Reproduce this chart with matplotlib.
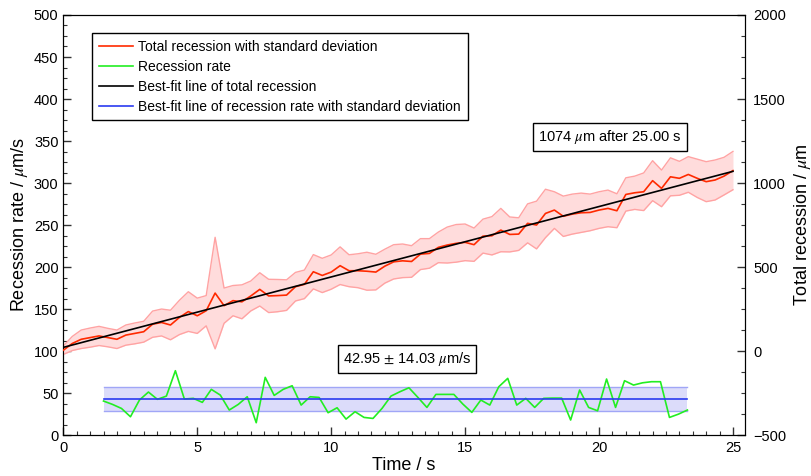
import numpy as np
import matplotlib
matplotlib.use("Agg")
import matplotlib.pyplot as plt
from matplotlib.ticker import MultipleLocator

plt.rcParams['font.family'] = ['Liberation Sans', 'DejaVu Sans']
plt.rcParams['mathtext.fontset'] = 'stix'

# total recession (um), sampled every 1/3 s from 0 to 25 s
total_recession = [5, 45, 70, 80, 90, 80, 70, 95, 105, 115,
                   160, 170, 155, 200, 235, 210, 240, 345, 270, 300,
                   293, 328, 367, 328, 330, 333, 383, 397, 472, 450,
                   470, 508, 478, 478, 475, 470, 505, 531, 537, 533,
                   577, 581, 617, 631, 641, 647, 633, 684, 686, 720,
                   694, 696, 760, 750, 819, 839, 802, 815, 823, 825,
                   839, 849, 835, 932, 942, 948, 1014, 968, 1037, 1028,
                   1051, 1028, 1008, 1018, 1041, 1074]
total_std = [25, 42, 55, 57, 57, 55, 55, 60, 62, 62,
             78, 80, 88, 102, 118, 105, 90, 332, 105, 90,
             101, 89, 99, 99, 96, 91, 85, 85, 102, 102,
             102, 112, 95, 101, 113, 106, 101, 102, 100, 94,
             92, 88, 91, 107, 112, 109, 99, 101, 114, 129,
             104, 97, 116, 142, 144, 109, 120, 119, 117, 109,
             109, 109, 101, 99, 99, 112, 119, 109, 113, 101,
             106, 114, 119, 119, 112, 114]
t_total = np.linspace(0, 25, len(total_recession))

# recession rate (um/s)
recession_rate = [40.5, 36.5, 31.7, 21.8, 41.7, 51.2, 42.5, 46.4, 76.6, 42.9,
                  43.7, 38.9, 54.4, 47.6, 29.8, 36.5, 45.6, 14.7, 68.7, 47.2,
                  54.4, 58.7, 35.7, 45.6, 44.8, 26.6, 32.5, 19.0, 27.8, 21.0,
                  19.8, 31.7, 46.4, 51.6, 56.3, 44.8, 32.9, 48.4, 48.4, 48.4,
                  36.9, 27.0, 41.7, 35.7, 57.5, 67.5, 35.7, 43.7, 32.9, 43.7,
                  44.0, 44.0, 17.9, 53.6, 32.9, 28.9, 66.7, 32.9, 64.7, 59.5,
                  62.2, 63.5, 63.5, 21.0, 24.9, 29.8]
t_rate = np.linspace(1.5, 23.3, len(recession_rate))

rate_mean = 42.95
rate_std = 14.03
fit_slope = 41.9
fit_intercept = 22.0
final_recession = 1074

fig = plt.figure(figsize=(8.12, 4.76), dpi=100)
ax = fig.add_axes([0.078, 0.086, 0.8395, 0.8825])
ax2 = ax.twinx()

# rate on the left axis
ax.fill_between([t_rate[0], t_rate[-1]], rate_mean - rate_std, rate_mean + rate_std,
                color='#dcdcfa', lw=0, zorder=1)
ax.plot([t_rate[0], t_rate[-1]], [rate_mean + rate_std] * 2, color='#a0a6f6', lw=1, zorder=2)
ax.plot([t_rate[0], t_rate[-1]], [rate_mean - rate_std] * 2, color='#a0a6f6', lw=1, zorder=2)
ax.plot(t_rate, recession_rate, color='#22ee22', lw=1.2, zorder=3)
ax.plot([t_rate[0], t_rate[-1]], [rate_mean] * 2, color='#2b3bf0', lw=1.2, zorder=4)

# total recession on the right axis
tr = np.array(total_recession)
sd = np.array(total_std)
ax2.fill_between(t_total, tr - sd, tr + sd, color='#ffdcdc', lw=0, zorder=1)
ax2.plot(t_total, tr + sd, color='#ffa3a3', lw=1, zorder=2)
ax2.plot(t_total, tr - sd, color='#ffa3a3', lw=1, zorder=2)
ax2.plot(t_total, tr, color='#ff2a00', lw=1.2, zorder=3)
fit_t = np.array([0, 25])
ax2.plot(fit_t, fit_intercept + fit_slope * fit_t, color='black', lw=1.2, zorder=4)

ax.set_xlim(0, 25.45)
ax.set_ylim(0, 500)
ax2.set_ylim(-500, 2000)

ax.xaxis.set_major_locator(MultipleLocator(5))
ax.xaxis.set_minor_locator(MultipleLocator(0.5))
ax.yaxis.set_major_locator(MultipleLocator(50))
ax.yaxis.set_minor_locator(MultipleLocator(12.5))
ax2.yaxis.set_major_locator(MultipleLocator(500))
ax2.yaxis.set_minor_locator(MultipleLocator(125))

for a in (ax, ax2):
    a.tick_params(which='major', direction='in', length=6, width=1, labelsize=10.5, color='#333333')
    a.tick_params(which='minor', direction='in', length=3, width=0.8, color='#333333')
ax.tick_params(axis='x', top=False, pad=4)
ax2.tick_params(axis='y', pad=6)

ax.set_xlabel('Time / s', fontsize=13, labelpad=2)
ax.set_ylabel(r'Recession rate / $\mu$m/s', fontsize=13, labelpad=3)
ax2.set_ylabel(r'Total recession / $\mu$m', fontsize=13, labelpad=4)

box = dict(boxstyle='square,pad=0.35', fc='white', ec='black', lw=1)
ax.text(0.802, 0.71, r'%d $\mu$m after 25.00 s' % final_recession, transform=ax.transAxes,
        ha='center', va='center', fontsize=10.5, bbox=box, zorder=10)
ax.text(0.504, 0.181, r'%.2f $\pm$ %.2f $\mu$m/s' % (rate_mean, rate_std), transform=ax.transAxes,
        ha='center', va='center', fontsize=10.5, bbox=box, zorder=10)

handles = [plt.Line2D([], [], color='#ff2a00', lw=1.2),
           plt.Line2D([], [], color='#22ee22', lw=1.2),
           plt.Line2D([], [], color='black', lw=1.2),
           plt.Line2D([], [], color='#2b3bf0', lw=1.2)]
labels = ['Total recession with standard deviation', 'Recession rate',
          'Best-fit line of total recession',
          'Best-fit line of recession rate with standard deviation']
leg = ax2.legend(handles, labels, loc='upper left', bbox_to_anchor=(0.0425, 0.957),
                 fontsize=10, frameon=True, fancybox=False, framealpha=1,
                 edgecolor='black', handlelength=2.4, handletextpad=0.4,
                 labelspacing=0.42, borderpad=0.5, borderaxespad=0)
leg.get_frame().set_linewidth(1)

fig.savefig('out.png', dpi=100)
